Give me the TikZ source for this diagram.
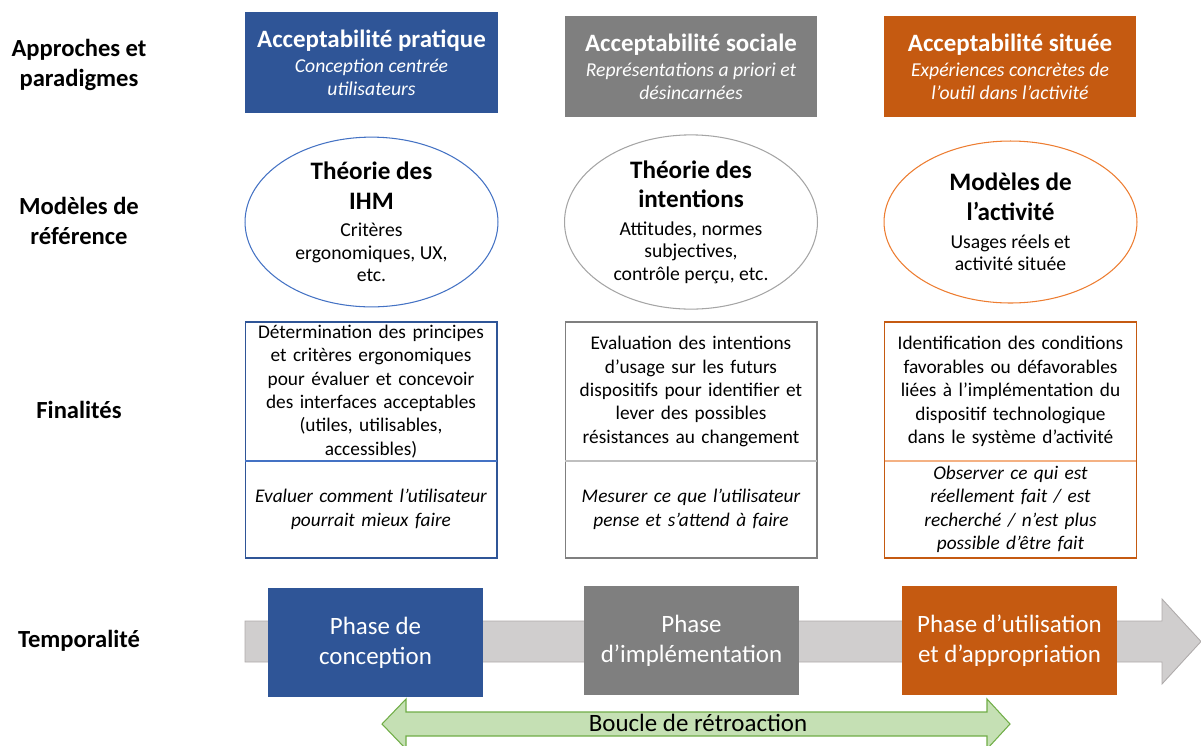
\documentclass[tikz,border=0pt]{standalone}
\usepackage{fontspec}
\setmainfont{Carlito}
\usetikzlibrary{positioning,shapes.geometric,calc}

\definecolor{bleuA}{HTML}{2F5597}
\definecolor{bleuC}{HTML}{8FAADC}
\definecolor{bleuE}{HTML}{4472C4}
\definecolor{grisA}{HTML}{7F7F7F}
\definecolor{grisC}{HTML}{BFBFBF}
\definecolor{orangeA}{HTML}{C55A11}
\definecolor{orangeC}{HTML}{F4B183}
\definecolor{orangeE}{HTML}{ED7D31}
\definecolor{fleche}{HTML}{D0CECE}
\definecolor{flecheB}{HTML}{AFABAB}
\definecolor{vertC}{HTML}{C5E0B4}
\definecolor{vertA}{HTML}{70AD47}

\tikzset{
  rubrique/.style={align=center, font=\bfseries\fontsize{14}{17.5}\selectfont},
  approche/.style={rectangle, minimum width=5.06cm, minimum height=2.02cm,
    inner sep=0pt, text=white, align=center,
    font=\itshape\fontsize{11.2}{13.2}\selectfont},
  modele/.style={ellipse, draw, line width=0.6pt, fill=white,
    minimum width=5.06cm, minimum height=3.24cm, inner sep=0pt, align=center,
    font=\fontsize{11.2}{12.8}\selectfont},
  finalite/.style={rectangle, draw, line width=0.6pt, minimum width=5.04cm,
    text width=4.9cm, inner sep=0pt, outer sep=0pt, align=center,
    font=\fontsize{11}{13.3}\selectfont},
  phase/.style={rectangle, minimum width=4.3cm, minimum height=2.18cm,
    inner sep=0pt, text=white, align=center,
    font=\fontsize{14.2}{17}\selectfont},
}
\newcommand{\titreA}[1]{{\upshape\bfseries\fontsize{14.2}{15}\selectfont #1}}
\newcommand{\titreM}[1]{{\bfseries\fontsize{14.3}{16.5}\selectfont #1}}

\begin{document}
\begin{tikzpicture}[x=0.02cm, y=-0.02cm]
\useasboundingbox (0,0) rectangle (1201,745);

% Rubriques a gauche
\node[rubrique] (rubApproche) at (79,65) {Approches et\\paradigmes};
\node[rubrique] (rubModele) at (79,221) {Modèles de\\référence};
\node[rubrique] (rubFinalite) at (79,410) {Finalités};
\node[rubrique] (rubTemps) at (79,641) {Temporalité};

% Approches
\node[approche, fill=bleuA] (appPratique) at (371.5,62.5)
  {\titreA{Acceptabilité pratique}\\[1pt]Conception centrée\\utilisateurs};
\node[approche, fill=grisA] (appSociale) at (691,66.5)
  {\titreA{Acceptabilité sociale}\\[1pt]Représentations a priori et\\désincarnées};
\node[approche, fill=orangeA] (appSituee) at (1010,66.5)
  {\titreA{Acceptabilité située}\\[1pt]Expériences concrètes de\\l’outil dans l’activité};

% Modeles de reference
\node[modele, draw=bleuE] (modIHM) at (371.5,222)
  {\titreM{Théorie des}\\[4pt]\titreM{IHM}\\[3pt]Critères\\ergonomiques, UX,\\etc.};
\node[modele, draw=grisA!70] (modIntention) at (691,222)
  {\titreM{Théorie des}\\[4pt]\titreM{intentions}\\[3pt]Attitudes, normes\\subjectives,\\contrôle perçu, etc.};
\node[modele, draw=orangeE] (modActivite) at (1010.5,222)
  {\titreM{Modèles de}\\[4pt]\titreM{l’activité}\\[3pt]Usages réels et\\activité située};

% Finalites
\node[finalite, draw=bleuA, minimum height=2.78cm] (finPratique) at (371,391.5)
  {Détermination des principes\\et critères ergonomiques\\pour évaluer et concevoir\\des interfaces acceptables\\(utiles, utilisables,\\accessibles)};
\node[finalite, draw=bleuA, minimum height=1.94cm, anchor=north, font=\itshape\fontsize{11}{13.3}\selectfont]
  (butPratique) at (finPratique.south) {Evaluer comment l’utilisateur\\pourrait mieux faire};
\node[finalite, draw=grisA, minimum height=2.78cm] (finSociale) at (691,391.5)
  {Evaluation des intentions\\d’usage sur les futurs\\dispositifs pour identifier et\\lever des possibles\\résistances au changement};
\node[finalite, draw=grisA, minimum height=1.94cm, anchor=north, font=\itshape\fontsize{11}{13.3}\selectfont]
  (butSociale) at (finSociale.south) {Mesurer ce que l’utilisateur\\pense et s’attend à faire};
\node[finalite, draw=orangeA, minimum height=2.78cm] (finSituee) at (1010.5,391.5)
  {Identification des conditions\\favorables ou défavorables\\liées à l’implémentation du\\dispositif technologique\\dans le système d’activité};
\node[finalite, draw=orangeA, minimum height=1.94cm, anchor=north, font=\itshape\fontsize{11}{13.3}\selectfont]
  (butSituee) at (finSituee.south) {Observer ce qui est\\réellement fait / est\\recherché / n’est plus\\possible d’être fait};
\draw[bleuE, line width=0.8pt] (finPratique.south west) -- (finPratique.south east);
\draw[grisC, line width=0.8pt] (finSociale.south west) -- (finSociale.south east);
\draw[orangeC, line width=0.8pt] (finSituee.south west) -- (finSituee.south east);

% Temporalite
\filldraw[fill=fleche, draw=flecheB, line width=0.5pt]
  (245,621) -- (1162,621) -- (1162,599) -- (1201,641.5) -- (1162,684) -- (1162,662) -- (245,662) -- cycle;
\node[phase, fill=bleuA] (phConception) at (375.5,642.5) {Phase de\\conception};
\node[phase, fill=grisA] (phImplementation) at (691.5,640.5) {Phase\\d’implémentation};
\node[phase, fill=orangeA] (phUtilisation) at (1009.5,640.5) {Phase d’utilisation\\et d’appropriation};

% Boucle
\filldraw[fill=vertC, draw=vertA, line width=0.6pt]
  (382,724) -- (406,699) -- (406,712) -- (987,712) -- (987,699) -- (1010,724)
  -- (987,749) -- (987,736) -- (406,736) -- (406,749) -- cycle;
\node[font=\fontsize{14.2}{16}\selectfont] (boucle) at (698,723) {Boucle de rétroaction};
\end{tikzpicture}
\end{document}
